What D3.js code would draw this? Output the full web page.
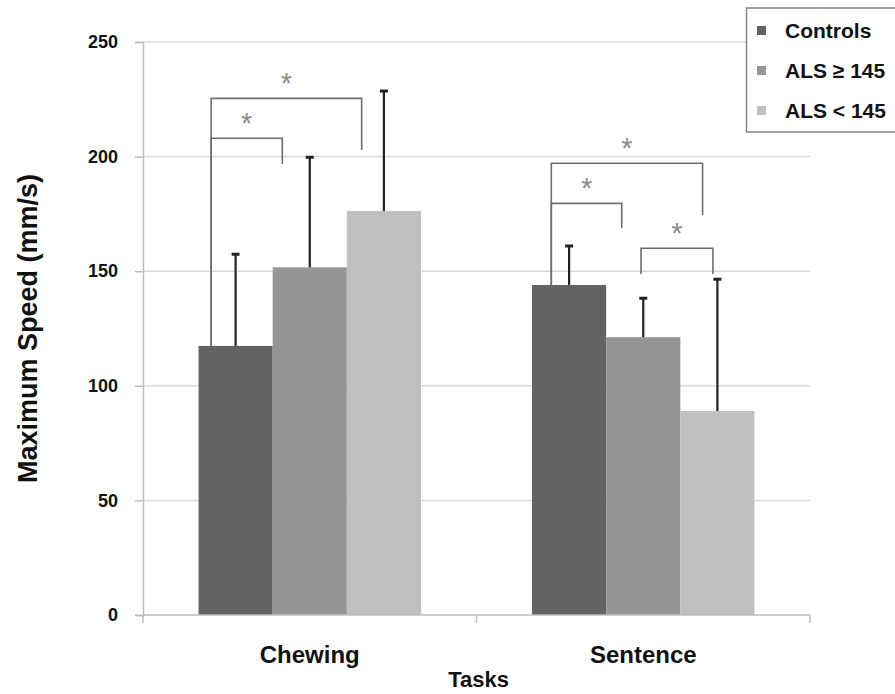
<!DOCTYPE html>
<html><head><meta charset="utf-8">
<script src="https://cdnjs.cloudflare.com/ajax/libs/d3/7.8.5/d3.min.js"></script>
<style>body{margin:0;background:#fff}text{font-family:"Liberation Sans",Arial,sans-serif}</style>
</head><body>
<svg id="c" width="895" height="694"></svg>
<script>
const categories = ["Chewing", "Sentence"];
const series = ["Controls", "ALS \u2265 145", "ALS < 145"];
const controls = [117.4, 144];
const alsHigh = [151.7, 121.2];
const alsLow = [176.3, 89];
const controlsErr = [157.4, 161];
const alsHighErr = [199.7, 138.2];
const alsLowErr = [228.6, 146.5];
const yTicks = [0, 50, 100, 150, 200, 250];
// significance brackets: category, from series, to series, bracket top value, drop-to values
const brkCat = [0, 0, 1, 1, 1];
const brkFrom = [0, 0, 0, 0, 1];
const brkTo = [1, 2, 1, 2, 2];
const brkTop = [208, 225.4, 179.6, 197.1, 160];
const brkLeftEnd = [117.4, 117.4, 144, 144, 148.8];
const brkRightEnd = [196.8, 202.9, 168.7, 174.5, 148.8];
const brkFromFrac = [0.17, 0.17, 0.26, 0.26, 0.47];
const brkToFrac = [0.13, 0.2, 0.21, 0.3, 0.44];
const colors = ["#636363", "#959595", "#c0c0c0"];

const svg = d3.select("#c");
const m = {l: 143, r: 810, t: 42, b: 615};
const x = d3.scaleBand().domain(categories).range([m.l, m.r]);
const bw = x.bandwidth();
const xs = d3.scaleBand().domain(series).range([bw * 0.1665, bw * 0.8335]);
const y = d3.scaleLinear().domain([0, 250]).range([m.b, m.t]);

// gridlines
svg.append("g").selectAll("line").data(yTicks.filter(d => d > 0)).join("line")
  .attr("x1", m.l).attr("x2", m.r).attr("y1", d => y(d)).attr("y2", d => y(d))
  .attr("stroke", "#d9d9d9").attr("stroke-width", 1.5);

// y axis
const ya = svg.append("g").attr("transform", `translate(${m.l},0)`)
  .call(d3.axisLeft(y).tickValues(yTicks).tickSize(8).tickPadding(17));
ya.select(".domain").attr("stroke", "#bdbdbd").attr("stroke-width", 1.5);
ya.selectAll(".tick line").attr("stroke", "#bdbdbd").attr("stroke-width", 1.5);
ya.selectAll("text").attr("font-size", 18).attr("font-weight", "bold").attr("fill", "#111")
  .attr("font-family", "Liberation Sans, Arial, sans-serif");

const vals = [controls, alsHigh, alsLow];
const errs = [controlsErr, alsHighErr, alsLowErr];
const bars = [];
categories.forEach((c, ci) => series.forEach((s, si) => bars.push({c, s, ci, si, v: vals[si][ci], e: errs[si][ci]})));

// bars
svg.append("g").selectAll("rect").data(bars).join("rect")
  .attr("x", d => x(d.c) + xs(d.s)).attr("width", xs.bandwidth())
  .attr("y", d => y(d.v)).attr("height", d => y(0) - y(d.v))
  .attr("fill", d => colors[d.si]);

// x axis
const xa = svg.append("g").attr("transform", `translate(0,${m.b})`);
xa.append("line").attr("x1", m.l).attr("x2", m.r).attr("stroke", "#bdbdbd").attr("stroke-width", 1.5);
const bounds = [m.l, ...categories.map(c => x(c) + bw)];
xa.selectAll("line.t").data(bounds).join("line").attr("class", "t")
  .attr("x1", d => d).attr("x2", d => d).attr("y1", 0).attr("y2", 8)
  .attr("stroke", "#bdbdbd").attr("stroke-width", 1.5);
xa.selectAll("text").data(categories).join("text")
  .attr("x", d => x(d) + bw / 2).attr("y", 48).attr("text-anchor", "middle")
  .attr("font-size", 24).attr("font-weight", "bold").attr("fill", "#111").text(d => d);

// error bars
const eg = svg.append("g").attr("stroke", "#222").attr("stroke-width", 2.2);
eg.selectAll("line.v").data(bars).join("line").attr("class", "v")
  .attr("x1", d => x(d.c) + xs(d.s) + xs.bandwidth() / 2).attr("x2", d => x(d.c) + xs(d.s) + xs.bandwidth() / 2)
  .attr("y1", d => y(d.v)).attr("y2", d => y(d.e));
eg.selectAll("line.h").data(bars).join("line").attr("class", "h")
  .attr("x1", d => x(d.c) + xs(d.s) + xs.bandwidth() / 2 - 4).attr("x2", d => x(d.c) + xs(d.s) + xs.bandwidth() / 2 + 4)
  .attr("y1", d => y(d.e)).attr("y2", d => y(d.e)).attr("stroke-width", 3);

// significance brackets
const bg = svg.append("g");
brkCat.forEach((ci, i) => {
  const c = categories[ci];
  const x1 = x(c) + xs(series[brkFrom[i]]) + xs.bandwidth() * brkFromFrac[i];
  const x2 = x(c) + xs(series[brkTo[i]]) + xs.bandwidth() * brkToFrac[i];
  const yt = y(brkTop[i]);
  bg.append("path")
    .attr("d", `M${x1},${y(brkLeftEnd[i])}V${yt}H${x2}V${y(brkRightEnd[i])}`)
    .attr("fill", "none").attr("stroke", "#6e6e6e").attr("stroke-width", 1.6);
  bg.append("text").attr("x", (x1 + x2) / 2).attr("y", yt - 5).attr("text-anchor", "middle")
    .attr("font-size", 29).attr("fill", "#8c8c8c").attr("font-family", "DejaVu Sans, sans-serif").text("*");
});

// axis titles
svg.append("text").attr("transform", `translate(37,${(m.t + m.b) / 2}) rotate(-90)`)
  .attr("text-anchor", "middle").attr("font-size", 27).attr("font-weight", "bold").attr("fill", "#111")
  .text("Maximum Speed (mm/s)");
svg.append("text").attr("x", (m.l + m.r) / 2 + 2).attr("y", 687).attr("text-anchor", "middle")
  .attr("font-size", 22).attr("font-weight", "bold").attr("fill", "#111").text("Tasks");

// legend
const lg = svg.append("g");
lg.append("rect").attr("x", 746.5).attr("y", 8).attr("width", 160).attr("height", 124)
  .attr("fill", "#fff").attr("stroke", "#888").attr("stroke-width", 1.5);
series.forEach((s, i) => {
  lg.append("rect").attr("x", 757).attr("y", 26 + i * 40).attr("width", 9).attr("height", 9).attr("fill", colors[i]);
  lg.append("text").attr("x", 785).attr("y", 38 + i * 40).attr("font-size", 21).attr("font-weight", "bold")
    .attr("fill", "#111").text(s);
});
</script>
</body></html>
